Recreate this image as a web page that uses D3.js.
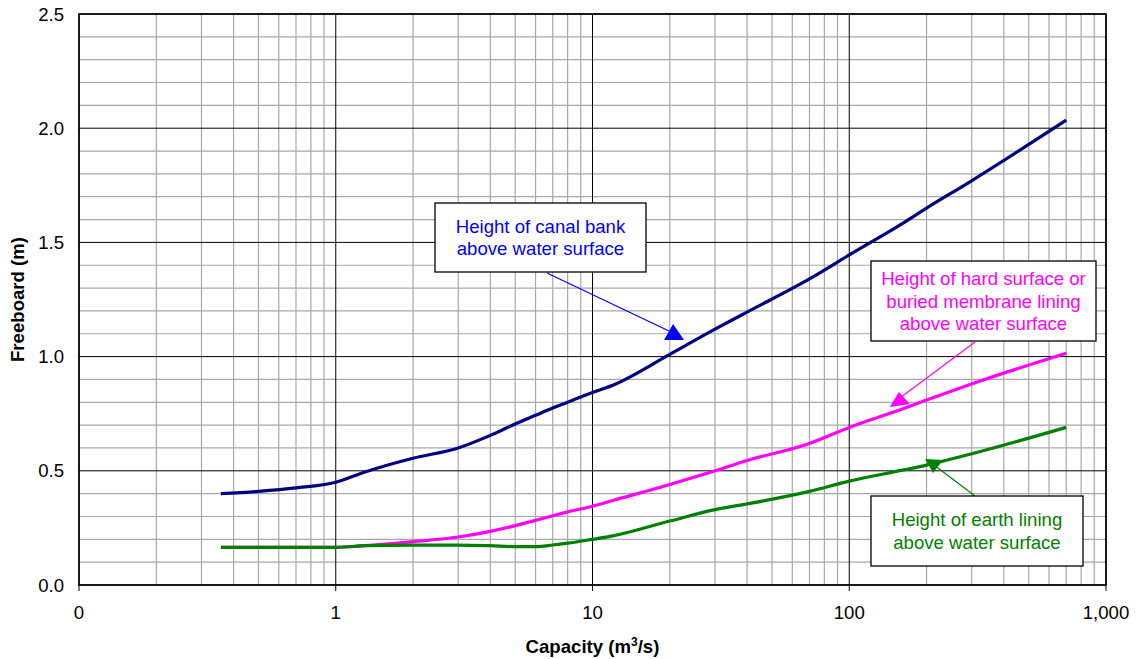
<!DOCTYPE html>
<html>
<head>
<meta charset="utf-8">
<script src="https://d3js.org/d3.v7.min.js"></script>
<style>
  body { margin: 0; background: #fff; }
  svg { font-family: "Liberation Sans", Arial, sans-serif; }
</style>
</head>
<body>
<svg width="1138" height="659" id="chart1"></svg>
<script>
  // capacity (m3/s) sampled along the curves
  var capacity = [0.357, 0.5, 0.7, 1, 1.3, 2, 3, 4, 5, 6, 7, 8, 10, 12, 20, 30, 40, 70, 100, 165, 200, 290, 700];
  // freeboard (m)
  var canalBank   = [0.40, 0.41, 0.425, 0.45, 0.495, 0.555, 0.60, 0.655, 0.705, 0.743, 0.775, 0.80, 0.843, 0.875, 1.01, 1.12, 1.195, 1.34, 1.445, 1.59, 1.65, 1.76, 2.035];
  var hardLining  = [0.165, 0.165, 0.165, 0.165, 0.172, 0.19, 0.21, 0.235, 0.26, 0.283, 0.303, 0.32, 0.345, 0.37, 0.44, 0.50, 0.545, 0.62, 0.69, 0.775, 0.81, 0.875, 1.015];
  var earthLining = [0.165, 0.165, 0.165, 0.165, 0.172, 0.175, 0.175, 0.172, 0.168, 0.168, 0.175, 0.183, 0.20, 0.215, 0.28, 0.33, 0.355, 0.41, 0.455, 0.505, 0.525, 0.57, 0.69];

  var xTicks = [0.1, 1, 10, 100, 1000];
  var xTickLabels = ["0", "1", "10", "100", "1,000"];
  var yTicks = [0, 0.5, 1.0, 1.5, 2.0, 2.5];

  var margin = {top: 14, right: 32, bottom: 74, left: 79},
      width = 1138 - margin.left - margin.right,
      height = 659 - margin.top - margin.bottom;

  var x = d3.scaleLog().domain([0.1, 1000]).range([0, width]);
  var y = d3.scaleLinear().domain([0, 2.5]).range([height, 0]);
  var fs = 18.6;

  var svg = d3.select("#chart1");
  var g = svg.append("g").attr("transform", "translate(" + margin.left + "," + margin.top + ")");

  // minor grid
  var minorX = [];
  [0.1, 1, 10, 100].forEach(function(d) { for (var k = 2; k <= 9; k++) minorX.push(d * k); });
  var minorY = d3.range(0, 26).map(function(i) { return i / 10; }).filter(function(v) { return Math.round(v * 10) % 5 != 0; });

  g.selectAll(".vminor").data(minorX).enter().append("line")
    .attr("x1", function(d) { return x(d); }).attr("x2", function(d) { return x(d); })
    .attr("y1", 0).attr("y2", height)
    .attr("stroke", "#a8a8a8").attr("stroke-width", 1.2);
  g.selectAll(".hminor").data(minorY).enter().append("line")
    .attr("x1", 0).attr("x2", width)
    .attr("y1", function(d) { return y(d); }).attr("y2", function(d) { return y(d); })
    .attr("stroke", "#a8a8a8").attr("stroke-width", 1.2);

  // major grid
  g.selectAll(".vmajor").data(xTicks).enter().append("line")
    .attr("x1", function(d) { return x(d); }).attr("x2", function(d) { return x(d); })
    .attr("y1", 0).attr("y2", height + 6)
    .attr("stroke", "#000").attr("stroke-width", 1);
  g.selectAll(".hmajor").data(yTicks).enter().append("line")
    .attr("x1", 0).attr("x2", width)
    .attr("y1", function(d) { return y(d); }).attr("y2", function(d) { return y(d); })
    .attr("stroke", "#000").attr("stroke-width", 1);

  // frame
  g.append("rect").attr("x", 0).attr("y", 0).attr("width", width).attr("height", height)
    .attr("fill", "none").attr("stroke", "#000").attr("stroke-width", 1.6);

  // tick labels
  g.selectAll(".xlab").data(xTicks).enter().append("text")
    .attr("x", function(d) { return x(d); }).attr("y", height + 34)
    .attr("text-anchor", "middle").style("font-size", fs + "px")
    .text(function(d, i) { return xTickLabels[i]; });
  g.selectAll(".ylab").data(yTicks).enter().append("text")
    .attr("x", -15).attr("y", function(d) { return y(d) + 6.6; })
    .attr("text-anchor", "end").style("font-size", fs + "px")
    .text(function(d) { return d3.format(".1f")(d); });

  // axis titles
  var xt = svg.append("text")
    .attr("x", margin.left + width / 2).attr("y", 653)
    .attr("text-anchor", "middle").style("font-size", fs + "px").style("font-weight", "bold");
  xt.append("tspan").text("Capacity (m");
  xt.append("tspan").attr("dy", -7).style("font-size", "12px").text("3");
  xt.append("tspan").attr("dy", 7).text("/s)");

  svg.append("text")
    .attr("transform", "translate(24," + (margin.top + height / 2) + ") rotate(-90)")
    .attr("text-anchor", "middle").style("font-size", fs + "px").style("font-weight", "bold")
    .text("Freeboard (m)");

  // curves
  var line = d3.line()
    .x(function(d) { return x(d[0]); })
    .y(function(d) { return y(d[1]); })
    .curve(d3.curveMonotoneX);
  var series = [
    {vals: hardLining, color: "#ff00ff"},
    {vals: canalBank, color: "#000080"},
    {vals: earthLining, color: "#008000"}
  ];
  series.forEach(function(s) {
    g.append("path")
      .datum(capacity.map(function(c, i) { return [c, s.vals[i]]; }))
      .attr("fill", "none").attr("stroke", s.color).attr("stroke-width", 3.2)
      .attr("stroke-linejoin", "round")
      .attr("d", line);
  });

  // callouts: box in page pixels, arrow tip in data units
  var callouts = [
    {lines: ["Height of canal bank", "above water surface"], color: "#0000ff",
     box: [435, 203, 211, 69], from: [547, 273], tip: [20.6, 1.143],
     tri: [[0, 0], [-9, 16], [11, 16]], end: [-2, 8]},
    {lines: ["Height of hard surface or", "buried membrane lining", "above water surface"], color: "#ff00ff",
     box: [871, 261, 225, 80], from: [975, 342], tip: [156, 0.845],
     tri: [[0, 0], [-9, 15], [11, 12]], end: [1, 6]},
    {lines: ["Height of earth lining", "above water surface"], color: "#008000",
     box: [871, 496, 212, 70], from: [975, 496], tip: [212, 0.49],
     tri: [[0, 0], [-8, -14], [10, -13]], end: [1, -8]}
  ];
  callouts.forEach(function(c) {
    var tx = margin.left + x(c.tip[0]), ty = margin.top + y(c.tip[1]);
    svg.append("line")
      .attr("x1", c.from[0]).attr("y1", c.from[1])
      .attr("x2", tx + c.end[0]).attr("y2", ty + c.end[1])
      .attr("stroke", c.color).attr("stroke-width", 1.2);
    svg.append("polygon")
      .attr("points", c.tri.map(function(p) { return (tx + p[0]) + "," + (ty + p[1]); }).join(" "))
      .attr("fill", c.color);
    svg.append("rect")
      .attr("x", c.box[0]).attr("y", c.box[1]).attr("width", c.box[2]).attr("height", c.box[3])
      .attr("fill", "#fff").attr("stroke", "#000").attr("stroke-width", 1.3);
    var cx = c.box[0] + c.box[2] / 2;
    var lh = 22.5;
    var y0 = c.box[1] + c.box[3] / 2 - (c.lines.length - 1) * lh / 2 + 6.6;
    c.lines.forEach(function(t, i) {
      svg.append("text")
        .attr("x", cx).attr("y", y0 + i * lh)
        .attr("text-anchor", "middle").attr("fill", c.color)
        .style("font-size", fs + "px")
        .text(t);
    });
  });
</script>
</body>
</html>
